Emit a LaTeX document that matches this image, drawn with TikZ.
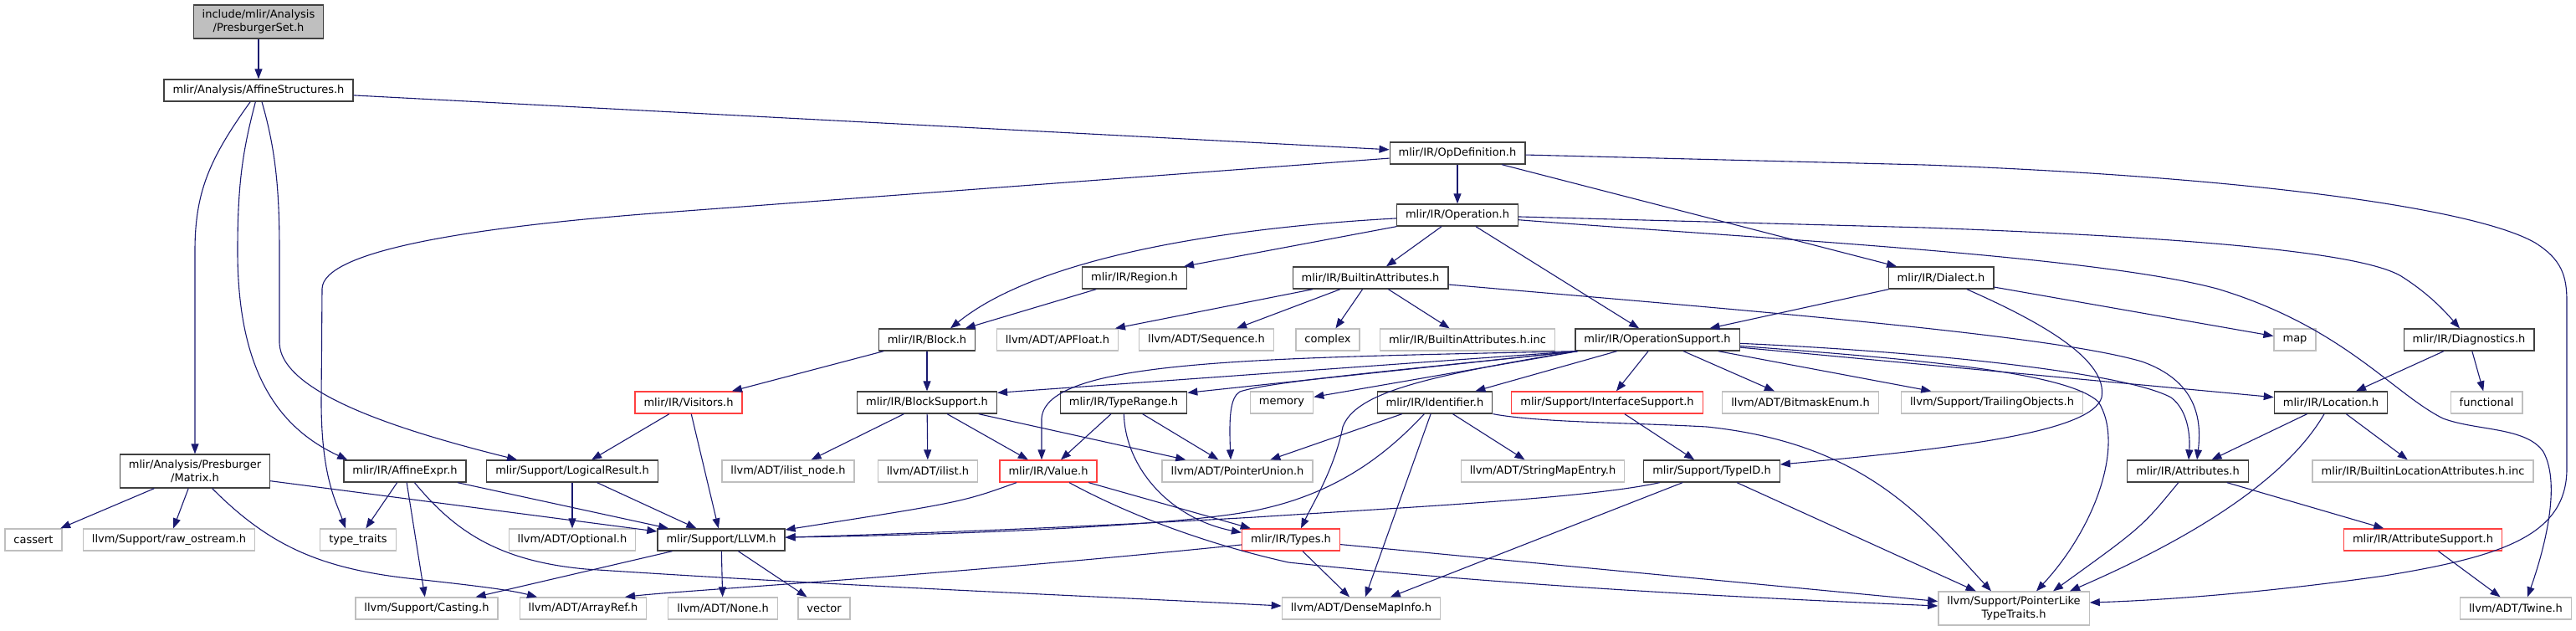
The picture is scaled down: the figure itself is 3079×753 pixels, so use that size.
\documentclass[tikz,border=0pt]{standalone}
\usepackage{fontspec}
\setmainfont{DejaVu Sans}
\usetikzlibrary{arrows.meta}
\definecolor{edgec}{RGB}{25,25,112}
\definecolor{extc}{RGB}{191,191,191}
\definecolor{docc}{RGB}{64,64,64}
\definecolor{redc}{RGB}{255,64,64}
\begin{document}
\begin{tikzpicture}[x=1pt,y=-1pt,
  nd/.style={rectangle,draw,line width=1.3pt,inner xsep=10.5pt,inner ysep=0pt,minimum height=26pt,
    font=\fontsize{13}{15.5}\selectfont,text=black},
  doc/.style={nd,draw=docc},
  ext/.style={nd,draw=extc},
  trunc/.style={nd,draw=redc},
  root/.style={doc,fill=extc},
  two/.style={align=center,minimum height=40pt},
  e/.style={draw=edgec,line width=1.1pt,-{Triangle[length=12pt,width=9pt]},fill=none}]
\useasboundingbox (0,0) rectangle (3079,753);
% nodes
\node[root,two] (ps) at (309,26) {include/mlir/Analysis\\/PresburgerSet.h};
\node[doc] (as) at (309,108) {mlir/Analysis/AffineStructures.h};
\node[doc] (opd) at (1742,183) {mlir/IR/OpDefinition.h};
\node[doc] (op) at (1742,257) {mlir/IR/Operation.h};
\node[doc] (ba) at (1638,332) {mlir/IR/BuiltinAttributes.h};
\node[doc] (reg) at (1356,332) {mlir/IR/Region.h};
\node[doc] (dia) at (2320,332) {mlir/IR/Dialect.h};
\node[doc] (blk) at (1108,406) {mlir/IR/Block.h};
\node[ext] (apf) at (1264,406) {llvm/ADT/APFloat.h};
\node[ext] (seq) at (1442,406) {llvm/ADT/Sequence.h};
\node[ext] (cplx) at (1587,406) {complex};
\node[ext] (bainc) at (1754,406) {mlir/IR/BuiltinAttributes.h.inc};
\node[doc] (os) at (1981,406) {mlir/IR/OperationSupport.h};
\node[ext] (map) at (2743,406) {map};
\node[doc] (diag) at (2951,406) {mlir/IR/Diagnostics.h};
\node[trunc] (vis) at (823,481) {mlir/IR/Visitors.h};
\node[doc] (bs) at (1108,481) {mlir/IR/BlockSupport.h};
\node[doc] (tr) at (1343,481) {mlir/IR/TypeRange.h};
\node[ext] (mem) at (1532,481) {memory};
\node[doc] (id) at (1715,481) {mlir/IR/Identifier.h};
\node[trunc] (is) at (1921,481) {mlir/Support/InterfaceSupport.h};
\node[ext] (bme) at (2152,481) {llvm/ADT/BitmaskEnum.h};
\node[ext] (to) at (2381,481) {llvm/Support/TrailingObjects.h};
\node[doc] (loc) at (2786,481) {mlir/IR/Location.h};
\node[ext] (fun) at (2972,481) {functional};
\node[doc,two] (mat) at (233,563) {mlir/Analysis/Presburger\\/Matrix.h};
\node[doc] (ae) at (484,563) {mlir/IR/AffineExpr.h};
\node[doc] (lr) at (684,563) {mlir/Support/LogicalResult.h};
\node[ext] (iln) at (942,563) {llvm/ADT/ilist\_node.h};
\node[ext] (il) at (1109,563) {llvm/ADT/ilist.h};
\node[trunc] (val) at (1253,563) {mlir/IR/Value.h};
\node[ext] (pu) at (1479,563) {llvm/ADT/PointerUnion.h};
\node[ext] (sme) at (1844,563) {llvm/ADT/StringMapEntry.h};
\node[doc] (tid) at (2046,563) {mlir/Support/TypeID.h};
\node[doc] (attr) at (2615,563) {mlir/IR/Attributes.h};
\node[ext] (blai) at (2896,563) {mlir/IR/BuiltinLocationAttributes.h.inc};
\node[ext] (cas) at (40,645) {cassert};
\node[ext] (raw) at (202,645) {llvm/Support/raw\_ostream.h};
\node[ext] (tt) at (428,645) {type\_traits};
\node[ext] (opt) at (684,645) {llvm/ADT/Optional.h};
\node[doc] (llvm) at (862,645) {mlir/Support/LLVM.h};
\node[trunc] (types) at (1543,645) {mlir/IR/Types.h};
\node[trunc] (asup) at (2896,645) {mlir/IR/AttributeSupport.h};
\node[ext] (cast) at (510,727) {llvm/Support/Casting.h};
\node[ext] (aref) at (697,727) {llvm/ADT/ArrayRef.h};
\node[ext] (none) at (864,727) {llvm/ADT/None.h};
\node[ext] (vec) at (985,727) {vector};
\node[ext] (dmi) at (1627,727) {llvm/ADT/DenseMapInfo.h};
\node[ext,two] (plt) at (2407,727) {llvm/Support/PointerLike\\TypeTraits.h};
\node[ext] (twine) at (3007,727) {llvm/ADT/Twine.h};
% edges
\draw[e] (ps) -- (as);
\draw[e] (as) .. controls (250,190) and (233,230) .. (233,300) -- (mat);
\draw[e] (as) .. controls (290,180) and (284,220) .. (284,300) .. controls (284,440) and (330,510) .. ([xshift=5pt]ae.north west);
\draw[e] (as) .. controls (330,180) and (334,230) .. (334,300) -- (334,410) .. controls (336,470) and (480,515) .. ([xshift=37pt]lr.north west);
\draw[e] (as) -- (opd);
\draw[e] (opd) -- (780,255) .. controls (560,272) and (386,300) .. (385,345) -- (384,480) .. controls (384,570) and (402,600) .. ([xshift=-15pt]tt.north);
\draw[e] (opd) -- (op);
\draw[e] (opd) -- (dia);
\draw[e] (opd) -- (2300,197) .. controls (2700,212) and (2960,250) .. (3030,290) .. controls (3062,310) and (3068,330) .. (3068,360) -- (3068,560) .. controls (3068,640) and (2990,665) .. (2850,688) .. controls (2680,712) and (2560,718) .. ([yshift=7pt]plt.east);
\draw[e] (op) .. controls (1500,270) and (1250,300) .. ([xshift=28pt]blk.north);
\draw[e] (op) -- ([xshift=-4pt]reg.north east);
\draw[e] (op) -- (ba);
\draw[e] (op) -- (os);
\draw[e] (op) -- (2300,272) .. controls (2600,283) and (2820,300) .. (2870,330) .. controls (2905,352) and (2925,375) .. ([xshift=-11pt]diag.north);
\draw[e] (op) .. controls (2100,285) and (2500,305) .. (2650,345) .. controls (2800,390) and (2860,470) .. (2920,500) .. controls (2960,515) and (3020,510) .. (3040,540) .. controls (3062,580) and (3040,660) .. ([xshift=14pt]twine.north);
\draw[e] (ba) -- (apf);
\draw[e] (ba) -- (seq);
\draw[e] (ba) -- (cplx);
\draw[e] (ba) -- (bainc);
\draw[e] (ba) .. controls (2100,372) and (2450,400) .. (2560,432) .. controls (2625,455) and (2632,500) .. ([xshift=11pt]attr.north);
\draw[e] (reg) -- (blk);
\draw[e] (dia) -- (os);
\draw[e] (dia) -- (map);
\draw[e] (dia) .. controls (2440,385) and (2520,430) .. (2512,475) .. controls (2500,515) and (2350,535) .. ([yshift=8pt]tid.east);
\draw[e] (blk) -- (vis);
\draw[e] (blk) -- (bs);
\draw[e] ([xshift=4pt]os.south west) -- (mem);
\draw[e] ([xshift=3pt]os.south west) -- ([yshift=-2pt]bs.north east);
\draw[e] ([xshift=3pt]os.south west) -- ([yshift=-2pt]tr.north east);
\draw[e] ([xshift=2pt]os.south west) .. controls (1500,428) and (1250,430) .. (1245,500) -- ([xshift=-8pt]val.north);
\draw[e] ([xshift=3pt]os.south west) .. controls (1700,440) and (1520,455) .. (1482,468) .. controls (1470,475) and (1469,500) .. ([xshift=-8pt]pu.north);
\draw[e] ([xshift=2pt]os.south west) .. controls (1700,450) and (1620,470) .. (1605,510) .. controls (1595,560) and (1570,600) .. ([xshift=12pt]types.north);
\draw[e] (os) -- (id);
\draw[e] (os) -- (is);
\draw[e] (os) -- (bme);
\draw[e] (os) -- (to);
\draw[e] (os) -- (loc);
\draw[e] (os) .. controls (2300,420) and (2540,445) .. (2595,475) .. controls (2615,490) and (2618,520) .. ([xshift=1pt]attr.north);
\draw[e] (os) .. controls (2300,430) and (2470,445) .. (2508,480) .. controls (2540,530) and (2505,630) .. ([xshift=27pt]plt.north);
\draw[e] (vis) -- (lr);
\draw[e] (vis) -- (llvm);
\draw[e] (bs) -- (iln);
\draw[e] (bs) -- (il);
\draw[e] (bs) -- (val);
\draw[e] (bs) -- (pu);
\draw[e] (tr) -- (val);
\draw[e] (tr) -- (pu);
\draw[e] (tr) .. controls (1345,560) and (1400,620) .. ([yshift=-5pt]types.north west);
\draw[e] (val) -- (types);
\draw[e] (val) .. controls (1150,600) .. (llvm);
\draw[e] (val) .. controls (1330,605) and (1420,645) .. (1540,672) .. controls (1800,700) and (2100,715) .. ([yshift=3pt]plt.west);
\draw[e] (types) .. controls (1100,690) and (820,705) .. ([xshift=50pt]aref.north);
\draw[e] (types) -- (dmi);
\draw[e] (types) -- (plt);
\draw[e] (llvm) -- (cast);
\draw[e] (llvm) -- (none);
\draw[e] (llvm) -- (vec);
\draw[e] (mat) -- (cas);
\draw[e] (mat) -- (raw);
\draw[e] (mat) .. controls (320,650) and (380,680) .. (497,692) .. controls (570,700) and (610,705) .. ([xshift=-55pt]aref.north);
\draw[e] (mat) -- (llvm);
\draw[e] (ae) -- (tt);
\draw[e] (ae) -- (cast);
\draw[e] (ae) -- (llvm);
\draw[e] (ae) .. controls (540,630) and (590,670) .. (700,680) .. controls (1000,700) and (1300,712) .. ([yshift=3pt]dmi.west);
\draw[e] (lr) -- (opt);
\draw[e] (lr) -- (llvm);
\draw[e] (id) -- (pu);
\draw[e] (id) .. controls (1660,540) and (1600,590) .. (1500,610) .. controls (1400,630) and (1100,640) .. ([yshift=3pt]llvm.east);
\draw[e] (id) -- (dmi);
\draw[e] (id) -- (sme);
\draw[e] (id.south east) .. controls (1840,505) and (1950,505) .. (2040,510) .. controls (2230,530) and (2300,620) .. ([xshift=-27pt]plt.north);
\draw[e] (is) -- (tid);
\draw[e] (tid) .. controls (1900,595) and (1700,605) .. (1500,618) .. controls (1200,635) and (1000,640) .. (llvm);
\draw[e] (tid) -- (dmi);
\draw[e] (tid) -- (plt);
\draw[e] (loc) -- (attr);
\draw[e] (loc) -- (blai);
\draw[e] (loc) .. controls (2740,560) and (2650,630) .. ([xshift=67pt]plt.north);
\draw[e] (diag) -- (loc);
\draw[e] (diag) -- (fun);
\draw[e] (attr) -- (asup);
\draw[e] (attr) .. controls (2560,630) .. ([xshift=47pt]plt.north);
\draw[e] (asup) -- (twine);
\end{tikzpicture}
\end{document}
